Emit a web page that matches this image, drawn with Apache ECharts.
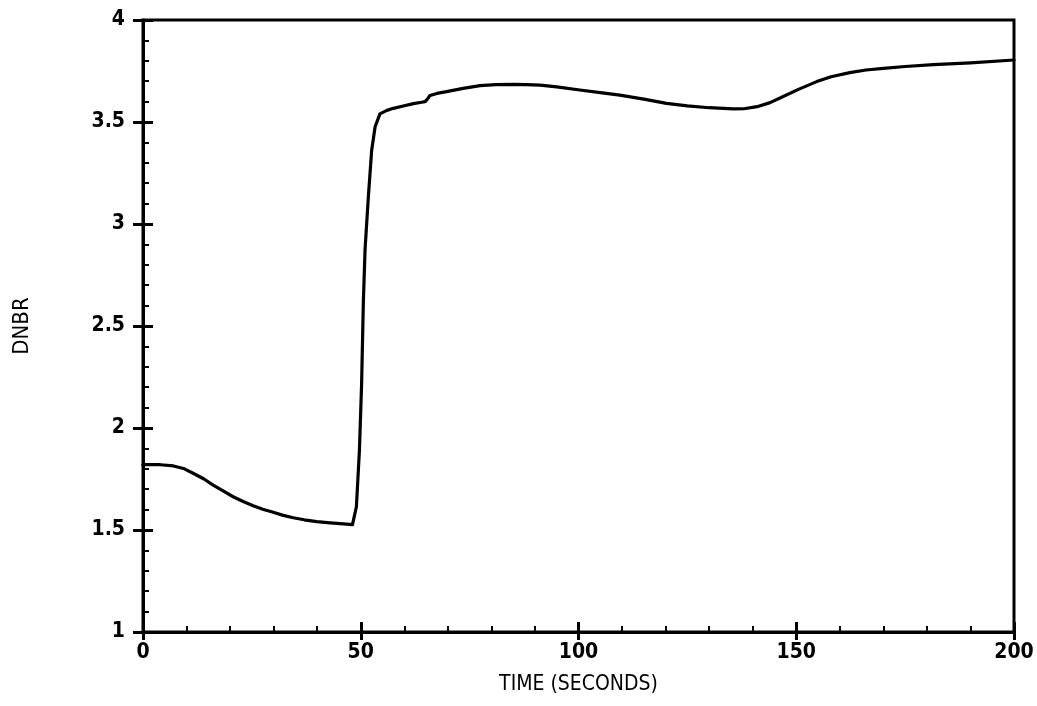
<!DOCTYPE html>
<html>
<head>
<meta charset="utf-8">
<script src="https://cdn.jsdelivr.net/npm/echarts@6/dist/echarts.min.js"></script>
<style>html,body{margin:0;padding:0;background:#fff;}#chart{width:1037px;height:706px;}</style>
</head>
<body>
<div id="chart"></div>
<script>
const timeSeconds = [0,4,7,9.5,11.5,14,16.1,18.5,20.7,23,25.3,27.5,29.9,32,34.5,37,39.9,43,46,48.1,49,49.7,50.2,50.6,51,51.8,52.5,53.3,54.4,56,57.5,60,62.1,64,64.8,65.4,65.9,67.5,69.7,73.5,77.4,81,85,88,91.2,95,100.3,105,109.5,115,120.2,125,130,135.5,138,141,144,147,150.5,154.7,158,162.3,166,170,175,181.5,190,200];
const dnbrValues = [1.82,1.82,1.814,1.80,1.778,1.75,1.72,1.69,1.663,1.64,1.619,1.602,1.587,1.573,1.56,1.55,1.541,1.535,1.53,1.526,1.614,1.892,2.219,2.62,2.88,3.15,3.36,3.477,3.54,3.557,3.567,3.58,3.59,3.597,3.60,3.615,3.63,3.64,3.649,3.665,3.678,3.683,3.684,3.683,3.681,3.672,3.657,3.644,3.632,3.612,3.591,3.579,3.57,3.564,3.565,3.575,3.595,3.625,3.66,3.698,3.722,3.742,3.755,3.763,3.772,3.781,3.79,3.804];
const xTicks = [0,50,100,150,200];
const yTicks = [1,1.5,2,2.5,3,3.5,4];
const xName = 'TIME (SECONDS)';
const yName = 'DNBR';

const FONT = '"DejaVu Sans Condensed","Liberation Sans",sans-serif';
const seriesData = timeSeconds.map((t,i)=>[t,dnbrValues[i]]);
const chart = echarts.init(document.getElementById('chart'));
const axisLine = {show:true,onZero:false,lineStyle:{color:'#000',width:3}};
chart.setOption({
  animation:false,
  backgroundColor:'#fff',
  grid:{left:143,right:23,top:20,bottom:74,show:true,borderColor:'#000',borderWidth:3,backgroundColor:'transparent'},
  xAxis:[{
    type:'value',min:xTicks[0],max:xTicks[xTicks.length-1],interval:50,
    axisLine:axisLine,
    axisTick:{show:true,inside:true,length:10,lineStyle:{color:'#000',width:3}},
    minorTick:{show:true,splitNumber:5,length:6,lineStyle:{color:'#000',width:2}},
    splitLine:{show:false},
    axisLabel:{color:'#000',fontSize:21,fontFamily:FONT,fontWeight:'bold',margin:10},
    name:xName,nameLocation:'middle',nameGap:42,
    nameTextStyle:{color:'#000',fontSize:21,fontFamily:FONT}
  },{
    type:'value',min:0,max:200,interval:50,position:'bottom',
    axisLine:{show:false},
    axisTick:{show:true,inside:false,length:8,lineStyle:{color:'#000',width:3}},
    axisLabel:{show:false},splitLine:{show:false}
  }],
  yAxis:[{
    type:'value',min:yTicks[0],max:yTicks[yTicks.length-1],interval:0.5,
    axisLine:axisLine,
    axisTick:{show:true,inside:true,length:10,lineStyle:{color:'#000',width:3}},
    minorTick:{show:true,splitNumber:5,length:6,lineStyle:{color:'#000',width:2}},
    splitLine:{show:false},
    axisLabel:{color:'#000',fontSize:21,fontFamily:FONT,fontWeight:'bold',margin:18,formatter:v=>String(v)},
    name:yName,nameLocation:'middle',nameGap:110,
    nameTextStyle:{color:'#000',fontSize:22,fontFamily:FONT}
  },{
    type:'value',min:1,max:4,interval:0.5,position:'left',
    axisLine:{show:false},
    axisTick:{show:true,inside:false,length:10,lineStyle:{color:'#000',width:3}},
    axisLabel:{show:false},splitLine:{show:false}
  }],
  series:[{
    type:'line',xAxisIndex:0,yAxisIndex:0,data:seriesData,
    showSymbol:false,smooth:false,
    lineStyle:{color:'#000',width:3.2,join:'round',cap:'round'},
    silent:true
  }]
});
</script>
</body>
</html>
